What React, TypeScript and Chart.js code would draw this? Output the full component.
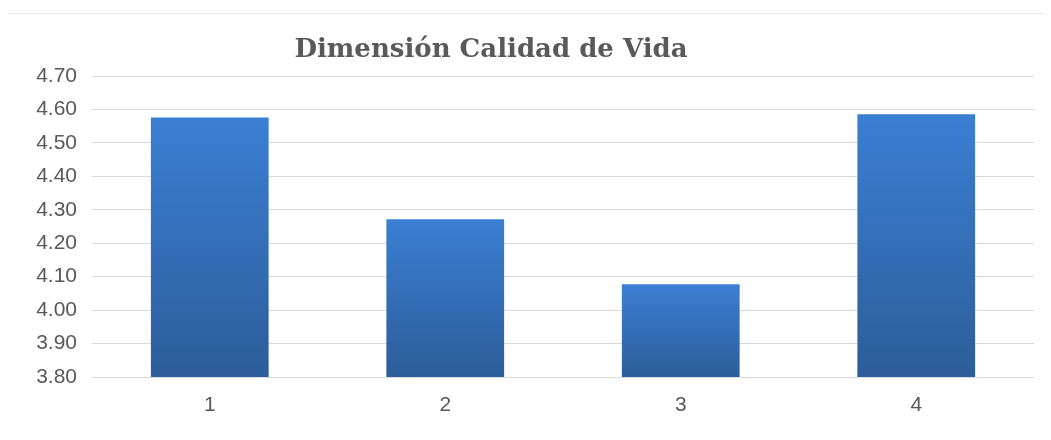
import React, { useEffect, useRef } from "react";
import { Chart, registerables } from "chart.js";

Chart.register(...registerables);

const TITLE = "Dimensión Calidad de Vida";
const categories = ["1", "2", "3", "4"];
const values = [4.576, 4.272, 4.077, 4.586];
const yMin = 3.8;
const yMax = 4.7;

const titlePlugin = {
  id: "customTitle",
  afterDraw(chart: any) {
    const c = chart.ctx;
    c.save();
    c.font = "bold 26px 'DejaVu Serif'";
    c.fillStyle = "#595959";
    c.textAlign = "center";
    c.textBaseline = "alphabetic";
    c.fillText(TITLE, 483, 43);
    c.restore();
  },
};

export default function App() {
  const ref = useRef<HTMLCanvasElement>(null);
  useEffect(() => {
    if (!ref.current) return;
    const chart = new Chart(ref.current, {
      type: "bar",
      data: {
        labels: categories,
        datasets: [
          {
            data: values,
            backgroundColor: (ctx: any) => {
              const ch = ctx.chart;
              const ys = ch.scales?.y;
              if (!ch.chartArea || !ys) return "#3478c8";
              const v = values[ctx.dataIndex];
              const top = ys.getPixelForValue(v);
              const bottom = ys.getPixelForValue(yMin);
              const g = ch.ctx.createLinearGradient(0, top, 0, bottom);
              g.addColorStop(0, "#3b7fd3");
              g.addColorStop(1, "#2d5d9a");
              return g;
            },
            borderWidth: 0,
            barPercentage: 0.5,
            categoryPercentage: 1,
          },
        ],
      },
      options: {
        animation: false,
        responsive: false,
        maintainAspectRatio: false,
        layout: { padding: { top: 62, right: 17, left: 0, bottom: 0 } },
        plugins: {
          legend: { display: false },
          title: { display: false },
          tooltip: { enabled: false },
        },
        scales: {
          x: {
            grid: { display: false },
            border: { display: false },
            ticks: {
              color: "#595959",
              font: { family: "'Liberation Sans'", size: 21 },
              padding: 8,
            },
            afterFit: (s: any) => {
              s.height = 63;
            },
          },
          y: {
            min: yMin,
            max: yMax,
            grid: { color: "#d9d9d9", lineWidth: 1, drawTicks: false },
            border: { display: false },
            ticks: {
              stepSize: 0.1,
              color: "#595959",
              font: { family: "'Liberation Sans'", size: 21 },
              padding: 15,
              callback: (v: any) => Number(v).toFixed(2),
            },
            afterFit: (s: any) => {
              s.width = 84;
            },
          },
        },
      },
      plugins: [titlePlugin],
    });
    return () => chart.destroy();
  }, []);
  return (
    <div
      style={{
        width: 1043,
        height: 426,
        marginLeft: -1,
        marginTop: 5,
        borderLeft: "1px solid #e8e8e8",
        borderTop: "1px solid #e8e8e8",
        background: "#fff",
      }}
    >
      <canvas ref={ref} width={1043} height={426} style={{ display: "block" }} />
    </div>
  );
}
